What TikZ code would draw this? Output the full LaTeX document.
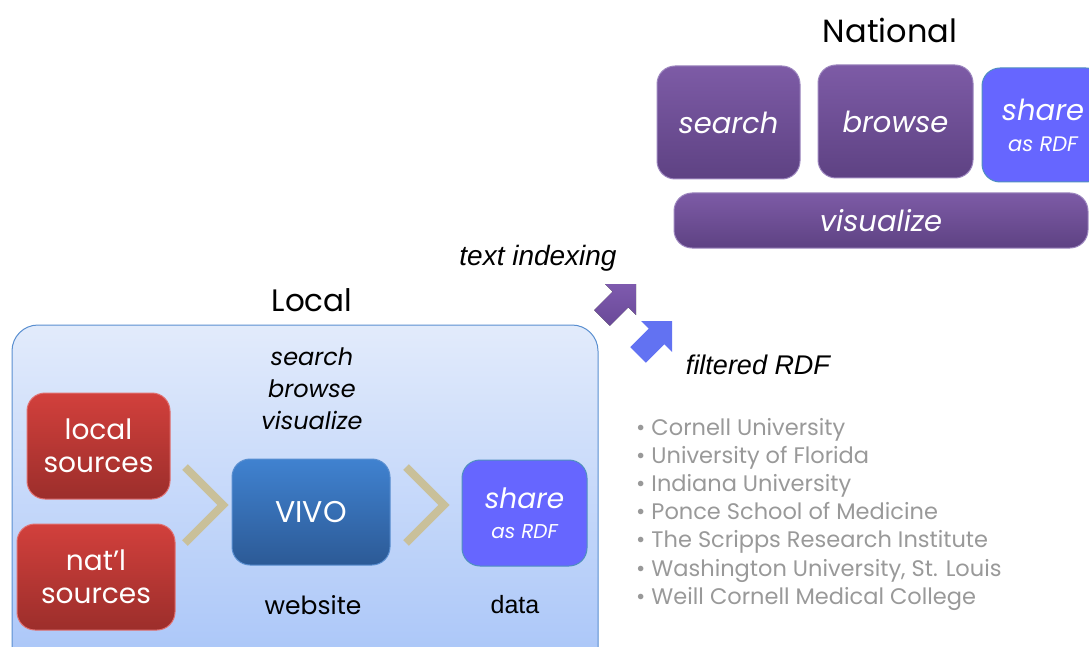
\documentclass[tikz,border=0pt]{standalone}
\usepackage{fontspec}
\setmainfont{Poppins}
\newfontfamily\arialf{Liberation Sans}
\definecolor{purpT}{HTML}{7D5BA6}
\definecolor{purpB}{HTML}{5E4283}
\definecolor{purpD}{HTML}{9C86BE}
\definecolor{shareB}{HTML}{6666FF}
\definecolor{shareD}{HTML}{4F8FC0}
\definecolor{redT}{HTML}{D2403C}
\definecolor{redB}{HTML}{9C2E2B}
\definecolor{redD}{HTML}{E07070}
\definecolor{vivoT}{HTML}{4082D0}
\definecolor{vivoB}{HTML}{2C5A96}
\definecolor{vivoD}{HTML}{5A8FD0}
\definecolor{locT}{HTML}{E2EBFB}
\definecolor{locB}{HTML}{A4C2F8}
\definecolor{locD}{HTML}{5A8FD0}
\definecolor{chev}{HTML}{C9C09A}
\definecolor{grayT}{HTML}{999999}
\definecolor{arrPT}{HTML}{7E5AAE}
\definecolor{arrPB}{HTML}{6A4A98}
\definecolor{arrB}{HTML}{6272F2}
\newcommand{\fs}[2]{\fontsize{#1}{#2}\selectfont}
\tikzset{
  purpbox/.style={rounded corners=18pt, top color=purpT, bottom color=purpB, draw=purpD, line width=1pt, text=white, inner sep=0pt},
  sharebox/.style={rounded corners=18pt, fill=shareB, draw=shareD, line width=1pt, text=white, inner sep=0pt, align=center},
  redbox/.style={rounded corners=18pt, top color=redT, bottom color=redB, draw=redD, line width=1pt, text=white, inner sep=0pt, align=center},
  vivobox/.style={rounded corners=18pt, top color=vivoT, bottom color=vivoB, draw=vivoD, line width=1pt, text=white, inner sep=0pt},
  chevline/.style={draw=chev, line width=8pt, line join=miter},
  plain/.style={inner sep=0pt, anchor=center},
  bullet/.style={inner sep=0pt, anchor=base west, text=grayT, font=\fs{22.5}{28}},
}
\begin{document}
\begin{tikzpicture}[x=1pt,y=-1pt]
\useasboundingbox (0,0) rectangle (1089,647);
\clip (0,0) rectangle (1089,647);
% National
\node[plain, font=\fs{32}{36}] (national) at (890,30) {National};
\node[purpbox, minimum width=143pt, minimum height=113pt, font=\fs{29}{32}\itshape] (nsearch) at (728.5,122.5) {search};
\node[purpbox, minimum width=155pt, minimum height=113pt, font=\fs{29}{32}\itshape] (nbrowse) at (895.5,121.5) {browse};
\node[sharebox, minimum width=122pt, minimum height=114pt, font=\fs{21}{31}\itshape] (nshare) at (1043,125) {{\fs{29}{31}share}\\as RDF};
\node[purpbox, minimum width=414pt, minimum height=55pt, font=\fs{29}{32}\itshape] (nvis) at (881,220.5) {visualize};
% labels
\node[plain, font=\arialf\fs{28}{30}\itshape] (tindex) at (538,258) {text indexing};
\node[plain, font=\arialf\fs{27}{30}\itshape] (frdf) at (758,365) {filtered RDF};
% arrows
\fill[top color=arrPT, bottom color=arrPB] (636,284) -- ++(-31,0) -- ++(7.7,7.7) -- ++(-18.4,18.4) -- ++(15.6,15.6) -- ++(18.4,-18.4) -- ++(7.7,7.7) -- cycle;
\fill[arrB] (672,321) -- ++(-31,0) -- ++(7.7,7.7) -- ++(-18.4,18.4) -- ++(15.6,15.6) -- ++(18.4,-18.4) -- ++(7.7,7.7) -- cycle;
% Local
\node[plain, font=\fs{31}{34}] (local) at (312,300) {Local};
\draw[rounded corners=26pt, top color=locT, bottom color=locB, draw=locD, line width=1pt] (12,325) rectangle (598,700);
\node[plain, font=\fs{24}{32}\itshape, align=center] (lsbv) at (312,389) {search\\browse\\visualize};
\node[redbox, minimum width=143pt, minimum height=106pt, font=\fs{28}{33}] (lsrc) at (98.5,446) {local\\sources};
\node[redbox, minimum width=158pt, minimum height=106pt, font=\fs{28}{33}] (nsrc) at (96,577) {nat’l\\sources};
\node[vivobox, minimum width=158pt, minimum height=106pt, font=\fs{30}{32}] (vivo) at (311,512) {VIVO};
\node[sharebox, minimum width=125pt, minimum height=106pt, font=\fs{20}{30}\itshape] (lshare) at (524.5,513) {{\fs{28}{30}share}\\as RDF};
\draw[chevline] (185,467) -- (223,505) -- (185,543);
\draw[chevline] (406,467) -- (444,505) -- (406,543);
\node[plain, font=\fs{25}{28}] (website) at (313,605) {website};
\node[plain, font=\arialf\fs{25}{28}] (data) at (515,605) {data};
% list
\node[bullet] (b1) at (636,435) {\textbullet\ Cornell University};
\node[bullet] (b2) at (636,463) {\textbullet\ University of Florida};
\node[bullet] (b3) at (636,491) {\textbullet\ Indiana University};
\node[bullet] (b4) at (636,519) {\textbullet\ Ponce School of Medicine};
\node[bullet] (b5) at (636,547) {\textbullet\ The Scripps Research Institute};
\node[bullet] (b6) at (636,576) {\textbullet\ Washington University, St. Louis};
\node[bullet] (b7) at (636,604) {\textbullet\ Weill Cornell Medical College};
\end{tikzpicture}
\end{document}
